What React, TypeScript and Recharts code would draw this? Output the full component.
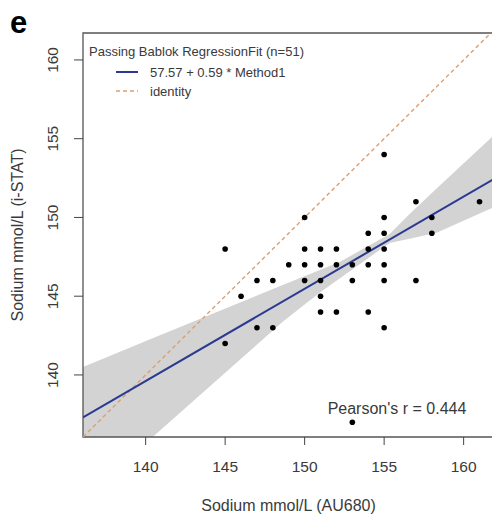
import React from 'react';
import {
  ComposedChart,
  Area,
  Line,
  Scatter,
  XAxis,
  YAxis,
  ReferenceArea,
  Legend,
  Label,
} from 'recharts';

// paired measurements, Sodium mmol/L (overlapping points drawn once)
const au680 = [145, 145, 146, 147, 147, 148, 148, 149, 150, 150, 150, 150, 151, 151, 151, 151, 151, 152, 152, 152, 153, 153, 153, 154, 154, 154, 154, 155, 155, 155, 155, 155, 155, 155, 157, 157, 158, 158, 161];
const iStat = [148, 142, 145, 146, 143, 146, 143, 147, 150, 148, 147, 146, 148, 147, 146, 145, 144, 148, 147, 144, 147, 146, 137, 149, 148, 147, 144, 154, 150, 149, 148, 147, 146, 143, 151, 146, 150, 149, 151];

// confidence band of the fit
const bandX = [136.06, 140.44, 148.62, 151.0, 152.2, 155.35, 156.6, 158.3, 161.91];
const bandLow = [136.06, 136.06, 143.37, 145.27, 146.13, 148.38, 148.65, 149.02, 150.66];
const bandHigh = [140.51, 142.33, 145.71, 146.68, 147.17, 148.95, 150.22, 151.83, 155.23];

// Passing Bablok line and identity line
const regX = [136.06, 161.91];
const regY = [137.31, 152.44];
const identX = [136.06, 161.71];
const identY = [136.06, 161.71];

const xTicks = [140, 145, 150, 155, 160];
const yTicks = [140, 145, 150, 155, 160];

const xDomain = [136.06, 161.91];
const yDomain = [136.06, 161.71];

const FONT = '"Liberation Sans", Arial, sans-serif';
const TEXT = '#3a3a3a';
const NAVY = '#2b3a90';
const TAN = '#dc9f72';

const rows = new Map<number, any>();
const row = (x: number) => {
  if (!rows.has(x)) rows.set(x, { x });
  return rows.get(x);
};
bandX.forEach((x, i) => (row(x).band = [bandLow[i], bandHigh[i]]));
regX.forEach((x, i) => (row(x).reg = regY[i]));
identX.forEach((x, i) => (row(x).ident = identY[i]));
const lineData = [...rows.values()].sort((a, b) => a.x - b.x);

const points = au680.map((x, i) => ({ x, y: iStat[i] }));

const XTick = ({ x, y, payload }: any) => (
  <text x={x} y={y} textAnchor="middle" dominantBaseline="central" fontSize={15.5} fill={TEXT} fontFamily={FONT}>
    {payload.value}
  </text>
);

const YTick = ({ x, y, payload }: any) => (
  <text
    x={x}
    y={y}
    transform={`rotate(-90 ${x} ${y})`}
    textAnchor="middle"
    dominantBaseline="central"
    fontSize={15.5}
    fill={TEXT}
    fontFamily={FONT}
  >
    {payload.value}
  </text>
);

const Dot = ({ cx, cy }: any) => <circle cx={cx} cy={cy} r={2.8} fill="#000" />;

const LegendBox = () => (
  <svg width={260} height={75} style={{ display: 'block' }}>
    <text x={6} y={18} dominantBaseline="central" fontSize={13} fill={TEXT} fontFamily={FONT}>
      Passing Bablok RegressionFit (n=51)
    </text>
    <line x1={33} x2={55} y1={39} y2={39} stroke={NAVY} strokeWidth={2} />
    <text x={67} y={39} dominantBaseline="central" fontSize={13} fill={TEXT} fontFamily={FONT}>
      57.57 + 0.59 * Method1
    </text>
    <line x1={33} x2={55} y1={58} y2={58} stroke={TAN} strokeWidth={1.5} strokeDasharray="4 3" />
    <text x={67} y={58} dominantBaseline="central" fontSize={13} fill={TEXT} fontFamily={FONT}>
      identity
    </text>
  </svg>
);

export default function App() {
  return (
    <div style={{ position: 'absolute', left: 0, top: 0, width: 492, height: 518, overflow: 'hidden', background: '#fff' }}>
      <ComposedChart width={494} height={518} data={lineData} margin={{ top: 33, right: 0, bottom: 0, left: 0 }}>
        <XAxis
          dataKey="x"
          type="number"
          domain={xDomain}
          allowDataOverflow
          ticks={xTicks}
          tickSize={8}
          tickMargin={21}
          height={81}
          axisLine={false}
          tickLine={{ stroke: '#444' }}
          tick={<XTick />}
        >
          <Label
            content={({ viewBox }: any) => (
              <text x={viewBox.x + viewBox.width / 2} y={505} textAnchor="middle" dominantBaseline="central" fontSize={16} fill={TEXT} fontFamily={FONT}>
                Sodium mmol/L (AU680)
              </text>
            )}
          />
        </XAxis>
        <YAxis
          type="number"
          domain={yDomain}
          allowDataOverflow
          ticks={yTicks}
          tickSize={9}
          tickMargin={21}
          width={83}
          axisLine={false}
          tickLine={{ stroke: '#444' }}
          tick={<YTick />}
        >
          <Label
            content={({ viewBox }: any) => {
              const cy = viewBox.y + viewBox.height / 2;
              return (
                <text x={17} y={cy} transform={`rotate(-90 17 ${cy})`} textAnchor="middle" dominantBaseline="central" fontSize={16} fill={TEXT} fontFamily={FONT}>
                  Sodium mmol/L (i-STAT)
                </text>
              );
            }}
          />
        </YAxis>

        <Area dataKey="band" type="linear" fill="#d3d3d3" fillOpacity={1} stroke="none" connectNulls isAnimationActive={false} />
        <Line dataKey="ident" type="linear" stroke={TAN} strokeWidth={1.4} strokeDasharray="4 3" dot={false} activeDot={false} connectNulls isAnimationActive={false} />
        <Line dataKey="reg" type="linear" stroke={NAVY} strokeWidth={2} dot={false} activeDot={false} connectNulls isAnimationActive={false} />
        <Scatter data={points} dataKey="y" shape={<Dot />} isAnimationActive={false} />

        <ReferenceArea x1={xDomain[0]} x2={xDomain[1]} y1={yDomain[0]} y2={yDomain[1]} fill="none" stroke="#555" strokeWidth={1.3} />

        <Legend
          layout="horizontal"
          verticalAlign="middle"
          align="center"
          wrapperStyle={{ left: 83, top: 33, width: 260, height: 75 }}
          content={() => <LegendBox />}
        />

        <text x={397} y={408} textAnchor="middle" dominantBaseline="central" fontSize={16} fill={TEXT} fontFamily={FONT}>
          Pearson's r = 0.444
        </text>
        <text x={10} y={33} fontSize={31} fontWeight="bold" fill="#000" fontFamily={FONT}>
          e
        </text>
      </ComposedChart>
    </div>
  );
}
